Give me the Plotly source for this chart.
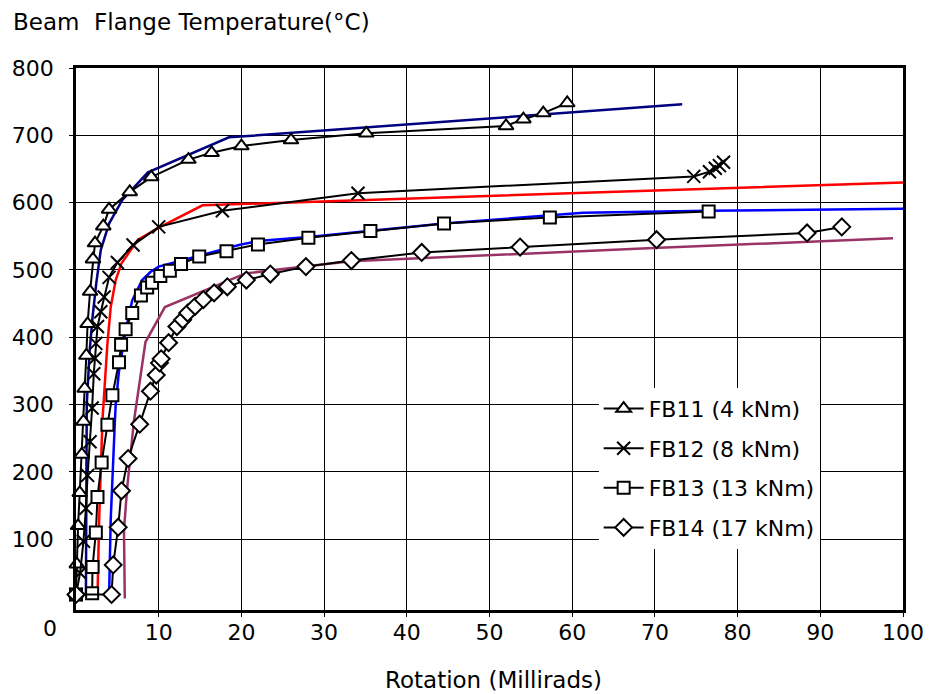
import plotly.graph_objects as go

# ---------------- data ----------------
fb11_x = [0, 0.1, 0.25, 0.45, 0.7, 0.9, 1.05, 1.25, 1.4, 1.7, 2.05, 2.3, 3.3, 4.0, 6.5, 9.1, 13.6, 16.4, 20.0, 26.0, 35.1, 52.0, 54.1, 56.5, 59.4]
fb11_y = [20, 63, 120, 169, 226, 275, 324, 373, 420, 468, 516, 540, 565, 590, 616, 638, 664, 674, 684, 693, 703, 714, 724, 733, 748]

fb12_x = [0, 0.5, 0.9, 1.2, 1.4, 1.7, 1.95, 2.15, 2.3, 2.4, 2.6, 3.0, 3.4, 4.0, 5.0, 6.9, 10.0, 17.7, 34.1, 74.7, 76.6, 77.3, 77.8, 78.3]
fb12_y = [18, 50, 97, 146, 195, 245, 295, 346, 369, 391, 416, 438, 460, 489, 511, 537, 564, 588, 614, 639, 646, 651, 655, 660]

fb13_x = [0, 1.95, 2.0, 2.4, 2.6, 3.1, 3.8, 4.4, 5.2, 5.45, 6.0, 6.8, 7.85, 8.6, 9.2, 10.2, 11.35, 12.7, 14.9, 18.2, 22.0, 28.1, 35.6, 44.5, 57.3, 76.5]
fb13_y = [18, 20, 59, 110, 163, 214, 270, 314, 363, 389, 412, 436, 462, 474, 481, 491, 499, 509, 520, 528, 538, 548, 558, 569, 578, 587]

fb14_x = [0, 4.3, 4.5, 5.1, 5.5, 6.3, 7.7, 9.0, 9.7, 10.1, 10.3, 11.2, 12.2, 12.9, 13.5, 14.4, 15.4, 16.7, 18.3, 20.6, 23.5, 27.8, 33.3, 41.8, 53.7, 70.2, 88.4, 92.6]
fb14_y = [18, 18, 62, 118, 172, 220, 271, 320, 344, 362, 368, 392, 416, 426, 436, 446, 456, 466, 475, 485, 494, 505, 514, 526, 534, 545, 555, 564]

# model curves (no markers)
m11_x = [1.2, 1.3, 1.65, 2.0, 2.45, 3.0, 4.0, 5.6, 8.7, 18.5, 73.3]
m11_y = [15, 300, 380, 430, 480, 530, 569, 604, 645, 697, 746]

m12_x = [2.6, 2.8, 3.2, 3.5, 3.8, 4.2, 4.8, 5.5, 7.5, 10.2, 15.3, 100]
m12_y = [15, 130, 277, 330, 391, 445, 485, 510, 545, 564, 596, 630]

m13_x = [4.0, 4.2, 4.7, 4.8, 5.2, 6.0, 6.8, 8.0, 9.0, 10.0, 19.7, 22.0, 28.1, 35.6, 44.5, 61.3, 76.5, 100]
m13_y = [15, 130, 275, 300, 350, 410, 455, 485, 497, 505, 537, 543, 549, 558, 569, 585, 588, 591]

m14_x = [5.9, 5.8, 6.2, 7.0, 8.4, 10.75, 20.5, 33.2, 69.8, 98.8]
m14_y = [12, 114, 178, 275, 393, 445, 495, 513, 532.5, 547]

series_names = ["FB11 (4 kNm)", "FB12 (8 kNm)", "FB13 (13 kNm)", "FB14 (17 kNm)"]
x_ticks = [10, 20, 30, 40, 50, 60, 70, 80, 90, 100]
y_ticks = [100, 200, 300, 400, 500, 600, 700, 800]

FONT = "DejaVu Sans, Verdana, sans-serif"

fig = go.Figure()

# model lines first (underneath)
for mx, my, col in [(m11_x, m11_y, "#000080"), (m12_x, m12_y, "#FF0000"),
                    (m13_x, m13_y, "#0000FF"), (m14_x, m14_y, "#993366")]:
    fig.add_trace(go.Scatter(x=mx, y=my, mode="lines", showlegend=False,
                             line=dict(color=col, width=2.5), hoverinfo="skip"))

marker_specs = [
    dict(symbol="triangle-up", size=13, color="white", line=dict(color="black", width=2)),
    dict(symbol="x-thin", size=13, color="black", line=dict(color="black", width=2)),
    dict(symbol="square", size=12, color="white", line=dict(color="black", width=2)),
    dict(symbol="diamond", size=13, color="white", line=dict(color="black", width=2)),
]
data = [(fb11_x, fb11_y), (fb12_x, fb12_y), (fb13_x, fb13_y), (fb14_x, fb14_y)]
for i, ((dx, dy), name, mk) in enumerate(zip(data, series_names, marker_specs)):
    fig.add_trace(go.Scatter(x=dx, y=dy, mode="lines+markers", name=name,
                             legendgroup="g%d" % i,
                             line=dict(color="black", width=2),
                             marker=mk, cliponaxis=False))

fig.update_layout(
    width=936, height=694,
    margin=dict(l=75, r=24, t=68, b=84),
    paper_bgcolor="white", plot_bgcolor="white",
    font=dict(family=FONT, size=22, color="black"),
    showlegend=True,
    legend=dict(x=0.632, y=0.41, xanchor="left", yanchor="top",
                bgcolor="white", borderwidth=0,
                traceorder="grouped", tracegroupgap=8,
                font=dict(family=FONT, size=22, color="black"),
                itemwidth=40),
    xaxis=dict(range=[0, 100], tickvals=x_ticks, ticktext=[str(v) for v in x_ticks],
               showgrid=True, gridcolor="black", gridwidth=1,
               showline=True, linecolor="black", linewidth=2.5, mirror=True,
               ticks="outside", ticklen=4, tickcolor="black",
               ticklabelstandoff=-3, zeroline=False,
               tickfont=dict(family=FONT, size=22)),
    yaxis=dict(range=[-5, 800], tickvals=y_ticks, ticktext=[str(v) for v in y_ticks],
               showgrid=True, gridcolor="black", gridwidth=1,
               showline=True, linecolor="black", linewidth=2.5, mirror=True,
               ticks="outside", ticklen=4, tickcolor="black",
               ticklabelstandoff=11, zeroline=False,
               tickfont=dict(family=FONT, size=22)),
    annotations=[
        dict(text="Beam  Flange Temperature(°C)", xref="paper", yref="paper",
             x=-0.078, y=1.085, xanchor="left", yanchor="middle", showarrow=False,
             font=dict(family=FONT, size=23)),
        dict(text="Rotation (Millirads)", xref="paper", yref="paper",
             x=0.505, y=-0.129, xanchor="center", yanchor="middle", showarrow=False,
             font=dict(family=FONT, size=23)),
        dict(text="0", xref="paper", yref="paper",
             x=-0.031, y=-0.035, xanchor="center", yanchor="middle", showarrow=False,
             font=dict(family=FONT, size=22)),
    ],
)

fig.write_html("out.html")
